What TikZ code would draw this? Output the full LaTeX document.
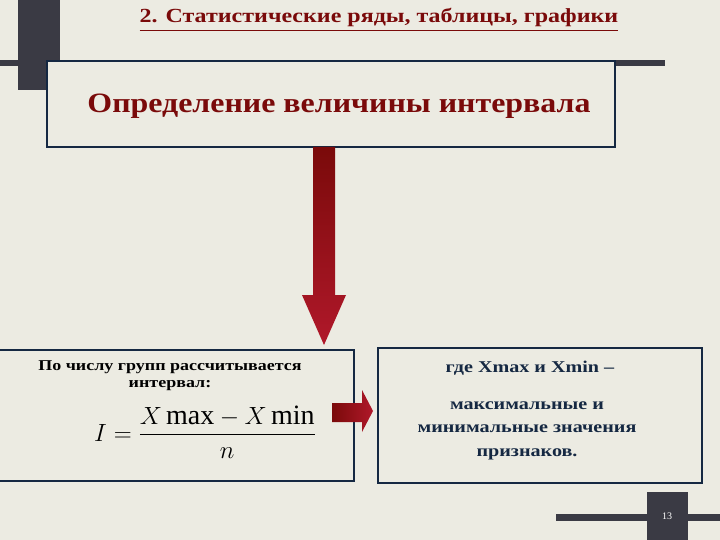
\documentclass[tikz,border=0pt]{standalone}
\usepackage{fontspec}
\usepackage{amsmath}
\usepackage{graphicx}
\setmainfont{Liberation Serif}
\definecolor{bg}{HTML}{ECEBE2}
\definecolor{dk}{HTML}{3A3A44}
\definecolor{navy}{HTML}{152842}
\definecolor{dred}{HTML}{7A0A0A}
\definecolor{ared}{HTML}{B0182A}
\begin{document}
\begin{tikzpicture}[x=1pt,y=-1pt,
  box/.style={draw=navy,line width=2.5pt},
  dtext/.style={text=navy,align=center}]
\fill[bg] (0,0) rectangle (720,540);
\useasboundingbox (0,0) rectangle (720,540);
\fill[dk] (18,0) rectangle (60,90);
\fill[dk] (0,60) rectangle (665,66);
\node[font=\bfseries\fontsize{20}{22}\selectfont,text=dred] (t) at (379,20) {\scalebox{1.2}[1]{\underline{2. Статистические ряды, таблицы, графики}}};
\draw[box,fill=bg] (47,61) rectangle (615,147);
\node[font=\bfseries\fontsize{28}{30}\selectfont,text=dred] (h) at (339,106) {\scalebox{1.14}[1]{Определение величины интервала}};
\shade[top color=dred,bottom color=ared] (313,147) -- (335,147) -- (335,295) -- (346,295) -- (324,345) -- (302,295) -- (313,295) -- cycle;
\draw[box] (-3,350) rectangle (354,481);
\node[font=\bfseries\fontsize{15}{17}\selectfont,align=center] (l) at (170,376) {\scalebox{1.2}[1]{\begin{tabular}{@{}c@{}}По числу групп рассчитывается\\интервал:\end{tabular}}};
\node[font=\fontsize{28}{30}\selectfont] (f) at (205,432) {$I=\dfrac{X\,\mathrm{max}-X\,\mathrm{min}}{n}$};
\shade[left color=dred,right color=ared] (332,403) -- (362,403) -- (362,390) -- (373,411) -- (362,432) -- (362,422) -- (332,422) -- cycle;
\draw[box] (378,348) rectangle (702,483);
\node[dtext,font=\bfseries\fontsize{16.5}{18}\selectfont] (r1) at (530,368) {\scalebox{1.22}[1]{где Xmax и Xmin –}};
\node[dtext,font=\bfseries\fontsize{16.5}{23.5}\selectfont] (r2) at (527,428) {\scalebox{1.22}[1]{\begin{tabular}{@{}c@{}}максимальные и\\минимальные значения\\признаков.\end{tabular}}};
\fill[dk] (556,514) rectangle (720,521);
\fill[dk] (647,492) rectangle (688,540);
\node[text=white,font=\fontsize{10}{12}\selectfont] (p) at (667,516) {13};
\end{tikzpicture}
\end{document}
